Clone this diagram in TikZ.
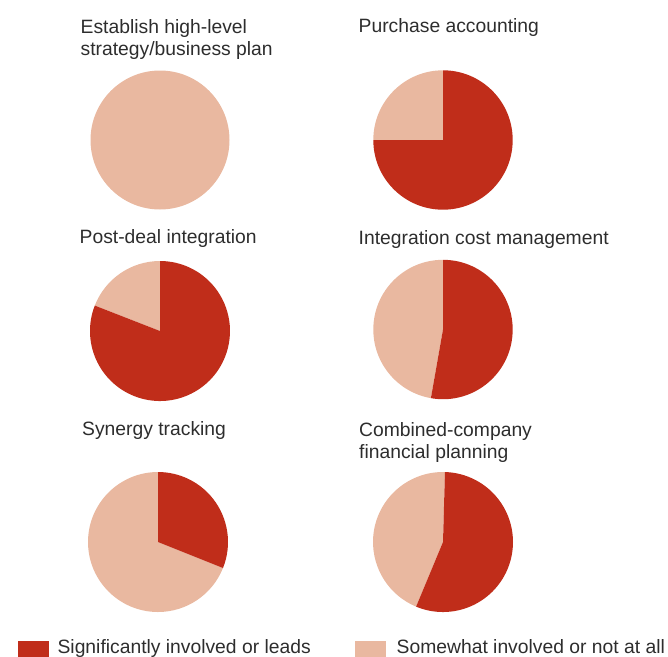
\documentclass[tikz,border=0pt]{standalone}
\usepackage{fontspec}
\setmainfont{Liberation Sans}
\usepackage{tikz}
\usetikzlibrary{positioning}
\definecolor{leads}{RGB}{192,45,26}
\definecolor{notall}{RGB}{233,184,160}
\definecolor{txt}{RGB}{45,45,45}
\newcommand*{\slice}[5]{\fill[#5] (#1) -- ++(#2:#4) arc[start angle=#2, end angle=#3, radius=#4] -- cycle;}

\begin{document}
\begin{tikzpicture}[x=1pt, y=1pt,
 title/.style={anchor=base west, inner sep=0pt, align=left, text=txt, font=\fontsize{19.3}{22}\selectfont},
 keybox/.style={anchor=north west, inner sep=0pt, minimum width=31pt, minimum height=22pt}]
 \useasboundingbox (0,0) rectangle (668,-656);
 \node[title] (strat) at (80.5,-55) {Establish high-level\\strategy/business plan};
 \node[title] (purch) at (358.5,-32) {Purchase accounting};
 \node[title] (post) at (79.5,-243) {Post-deal integration};
 \node[title] (cost) at (358.5,-244) {Integration cost management};
 \node[title] (syn) at (82,-435) {Synergy tracking};
 \node[title] (comb) at (359,-458) {Combined-company\\financial planning};
 \coordinate (pstrat) at (160,-140);
 \coordinate (ppurch) at (443,-140);
 \coordinate (ppost) at (160,-331);
 \coordinate (pcost) at (443,-329.5);
 \coordinate (psyn) at (158,-542);
 \coordinate (pcomb) at (443,-542);
 \fill[notall] (pstrat) circle[radius=69.5];
 \slice{ppurch}{90}{180}{69.7}{notall}
 \slice{ppurch}{180}{450}{69.7}{leads}
 \slice{ppost}{90}{158.7}{70}{notall}
 \slice{ppost}{158.7}{450}{70}{leads}
 \slice{pcost}{90}{260}{69.7}{notall}
 \slice{pcost}{260}{450}{69.7}{leads}
 \slice{psyn}{90}{338.2}{70}{notall}
 \slice{psyn}{-21.8}{90}{70}{leads}
 \slice{pcomb}{88.4}{247.4}{70}{notall}
 \slice{pcomb}{247.4}{448.4}{70}{leads}
 \node[keybox, fill=leads] (keylead) at (17.5,-640.5) {};
 \node[title] (txtlead) at (57.4,-653.5) {Significantly involved or leads};
 \node[keybox, fill=notall] (keynot) at (354.5,-640.5) {};
 \node[title] (txtnot) at (396.5,-653.5) {Somewhat involved or not at all};
\end{tikzpicture}
\end{document}
